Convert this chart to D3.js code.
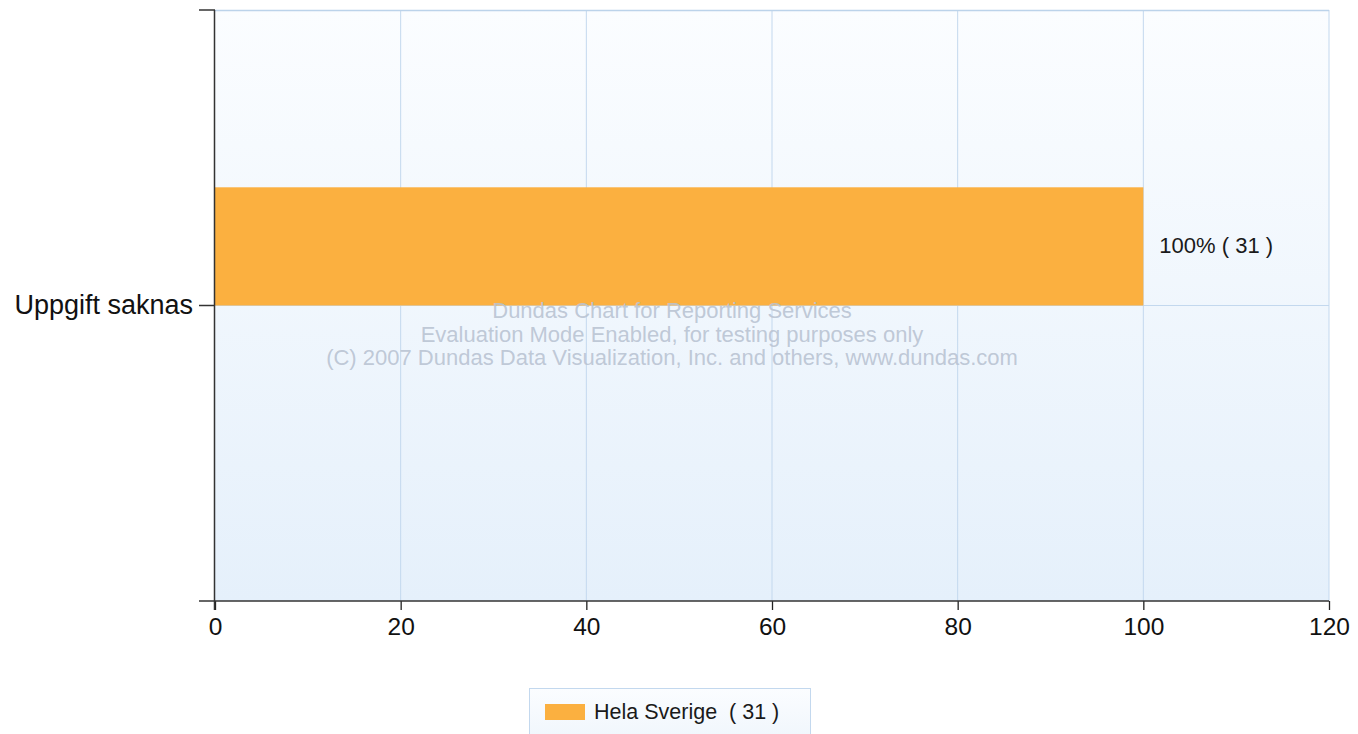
<!DOCTYPE html>
<html><head><meta charset="utf-8">
<script src="https://cdn.jsdelivr.net/npm/d3@7/dist/d3.min.js"></script>
<style>body{margin:0;background:#fff;font-family:Arial,"Liberation Sans",sans-serif;} text{white-space:pre;}</style>
</head><body>
<svg id="chart" width="1358" height="734"></svg>
<script>
const categories = ["Uppgift saknas"];
const values = [100];
const counts = [31];
const seriesName = "Hela Sverige";
const seriesTotal = 31;
const xTicks = [0, 20, 40, 60, 80, 100, 120];
const watermark = ["Dundas Chart for Reporting Services","Evaluation Mode Enabled, for testing purposes only","(C) 2007 Dundas Data Visualization, Inc. and others, www.dundas.com"];

const FONT = "Arial,'Liberation Sans',sans-serif";
const svg = d3.select("#chart");
const L = 215, R = 1329, T = 10, B = 601;
const x = d3.scaleLinear().domain([0, 120]).range([L, R]);
const y = d3.scaleLinear().domain([0, categories.length * 2]).range([B, T]);

const defs = svg.append("defs");
const g1 = defs.append("linearGradient").attr("id","bg").attr("x1",0).attr("y1",0).attr("x2",0).attr("y2",1);
g1.append("stop").attr("offset","0%").attr("stop-color","#fbfdff");
g1.append("stop").attr("offset","100%").attr("stop-color","#e5f0fb");
const g2 = defs.append("linearGradient").attr("id","lg").attr("x1",0).attr("y1",0).attr("x2",0).attr("y2",1);
g2.append("stop").attr("offset","0%").attr("stop-color","#fbfdff");
g2.append("stop").attr("offset","100%").attr("stop-color","#eef5fc");

svg.append("rect").attr("x",L).attr("y",T).attr("width",R-L).attr("height",B-T).attr("fill","url(#bg)");

// grid
svg.append("g").selectAll("line").data(xTicks.filter(d=>d>0)).join("line")
  .attr("x1",d=>x(d)).attr("x2",d=>x(d)).attr("y1",T).attr("y2",B)
  .attr("stroke","#c3d8ee").attr("stroke-width",1);
svg.append("g").selectAll("line").data(categories.map((c,i)=>i*2+1)).join("line")
  .attr("x1",L).attr("x2",R).attr("y1",d=>y(d)).attr("y2",d=>y(d))
  .attr("stroke","#c3d8ee").attr("stroke-width",1);
svg.append("line").attr("x1",L).attr("x2",R).attr("y1",T+0.5).attr("y2",T+0.5).attr("stroke","#bcd3ea").attr("stroke-width",1.5);

// bars
svg.append("g").selectAll("rect").data(values).join("rect")
  .attr("x",x(0)).attr("width",d=>x(d)-x(0))
  .attr("y",(d,i)=>y(i*2+1.4)).attr("height",(d,i)=>y(i*2+1)-y(i*2+1.4))
  .attr("fill","#fbb040");

// data labels
svg.append("g").selectAll("text").data(values).join("text")
  .attr("x",d=>x(d)+16).attr("y",(d,i)=>y(i*2+1.2)+7)
  .attr("font-size",22).attr("font-family",FONT).attr("fill","#1a1a1a")
  .text((d,i)=>d+"% ( "+counts[i]+" )");

// watermark
svg.append("g").selectAll("text").data(watermark).join("text")
  .attr("x",672).attr("y",(d,i)=>318+i*23.5).attr("text-anchor","middle")
  .attr("font-size",22).attr("font-family",FONT).attr("fill","#b9c3d2").attr("fill-opacity",0.9).text(d=>d);

// x axis
const xa = svg.append("g").attr("transform",`translate(0,${B})`)
  .call(d3.axisBottom(x).tickValues(xTicks).tickSize(9).tickSizeOuter(0).tickPadding(8));
xa.select(".domain").remove();
xa.selectAll(".tick line").attr("stroke","#222").attr("stroke-width",1.3);
xa.selectAll(".tick text").attr("font-size",24.5).attr("fill","#111").attr("font-family",FONT);
svg.append("line").attr("x1",199).attr("x2",R).attr("y1",B).attr("y2",B).attr("stroke","#333").attr("stroke-width",1.5);

// y axis
svg.append("line").attr("x1",L-0.5).attr("x2",L-0.5).attr("y1",T).attr("y2",B+9).attr("stroke","#333").attr("stroke-width",1.5);
svg.append("line").attr("x1",199).attr("x2",L).attr("y1",T).attr("y2",T).attr("stroke","#333").attr("stroke-width",1.5);
svg.append("g").selectAll("line").data(categories).join("line")
  .attr("x1",199).attr("x2",L).attr("y1",(d,i)=>y(i*2+1)).attr("y2",(d,i)=>y(i*2+1))
  .attr("stroke","#333").attr("stroke-width",1.5);
svg.append("g").selectAll("text").data(categories).join("text")
  .attr("x",193).attr("y",(d,i)=>y(i*2+1)+8).attr("text-anchor","end")
  .attr("font-size",27).attr("font-family",FONT).attr("fill","#111").text(d=>d);

// legend
svg.append("rect").attr("x",529.5).attr("y",688.5).attr("width",281).attr("height",60)
  .attr("fill","url(#lg)").attr("stroke","#c3d8ee");
svg.append("rect").attr("x",545).attr("y",704).attr("width",40).attr("height",16).attr("fill","#fbb040");
svg.append("text").attr("x",594).attr("y",719).attr("font-size",21.5).attr("font-family",FONT).attr("fill","#1a1a1a")
  .text(seriesName+"  ( "+seriesTotal+" )");
</script>
</body></html>
